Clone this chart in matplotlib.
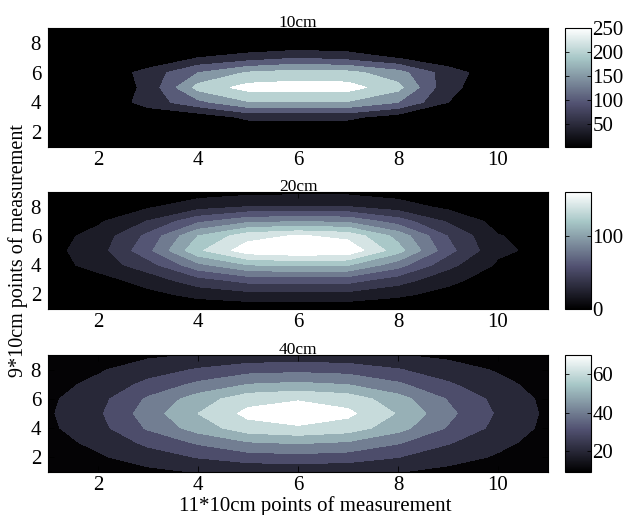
import numpy as np
import matplotlib
matplotlib.use("Agg")
import matplotlib.pyplot as plt
from matplotlib import colors as mcolors
from matplotlib.cm import ScalarMappable

plt.rcParams['font.family'] = ['Liberation Serif', 'DejaVu Serif']

# measurement grid: 11 points along x, 9 along y (rows listed bottom -> top)
x_pts = np.arange(1, 12)
y_pts = np.arange(1, 10)

depth_10cm = [
    [2, 2, 2, 2, 2, 2, 2, 2, 2, 2, 2],
    [2, 2, 3, 4, 6, 6, 6, 4, 3, 2, 2],
    [2, 3, 10, 17, 60, 60, 60, 25, 6, 3, 2],
    [2, 5, 71, 135, 195, 195, 195, 150, 50, 10, 3],
    [2, 3, 63, 218, 268, 272, 270, 216, 60, 24, 5],
    [2, 5, 70, 150, 205, 221, 215, 170, 75, 15, 3],
    [2, 2, 3, 50, 72, 97, 80, 46, 12, 3, 2],
    [2, 2, 2, 2, 3, 3, 3, 2, 2, 2, 2],
    [2, 2, 2, 2, 2, 2, 2, 2, 2, 2, 2],
]
depth_20cm = [
    [0, 1, 2, 5, 6, 6, 6, 4, 2, 1, 0],
    [2, 6, 14, 26, 33, 34, 33, 24, 13, 5, 3],
    [5, 12, 29, 53, 68, 70, 69, 50, 26, 9, 6],
    [10, 28, 51, 94, 119, 123, 121, 88, 46, 17, 10],
    [13, 31, 74, 136, 172, 178, 175, 128, 67, 24, 14],
    [11, 27, 65, 120, 152, 162, 154, 113, 59, 21, 12],
    [7, 17, 41, 75, 95, 98, 96, 70, 37, 13, 8],
    [3, 7, 17, 31, 40, 41, 40, 29, 15, 6, 3],
    [1, 3, 6, 11, 14, 15, 15, 11, 6, 2, 1],
]
depth_40cm = [
    [9, 15.1, 17.4, 20.5, 21.2, 21.6, 21.1, 20.3, 17.1, 15.2, 13.7],
    [15.1, 18.6, 24.8, 30.4, 35.1, 36.3, 34.9, 30.1, 24.0, 18.8, 14.9],
    [16.4, 22.2, 32.2, 41.3, 49.0, 51.0, 48.7, 40.9, 30.8, 22.5, 16.0],
    [18.0, 26.4, 41.2, 54.5, 65.7, 68.6, 65.3, 53.8, 39.1, 26.9, 17.4],
    [18.7, 28.2, 44.9, 60.0, 72.7, 76.0, 72.2, 59.2, 42.6, 28.7, 18.0],
    [18.1, 26.5, 41.4, 54.8, 66.1, 69.0, 65.6, 54.1, 39.3, 27.0, 17.4],
    [16.5, 22.4, 32.7, 42.1, 50.0, 52.0, 49.6, 41.6, 31.3, 22.7, 16.1],
    [15.2, 18.8, 25.2, 30.9, 35.7, 37.0, 35.6, 30.6, 24.3, 19.0, 14.9],
    [13.9, 15.4, 18.1, 20.5, 22.5, 23.0, 22.4, 20.3, 17.7, 15.5, 13.8],
]

levels_10cm = [50, 100, 150, 200, 250]
levels_20cm = [20, 40, 60, 80, 100, 120, 140, 160]
levels_40cm = [10, 20, 30, 40, 50, 60, 70]

cbticks_10cm = [50, 100, 150, 200, 250]
cbticks_20cm = [0, 100]
cbticks_40cm = [20, 40, 60]

titles = ['10cm', '20cm', '40cm']

W, H = 627, 515
fig = plt.figure(figsize=(W / 100, H / 100), dpi=100)
cmap = plt.get_cmap('bone')

# pixel boxes (left, top, right, bottom) of each panel; colorbar shares top/bottom
ax_boxes = [(48, 28, 548, 147), (48, 192, 548, 309), (48, 355, 548, 472)]
cb_x = (565, 591)


def frac(box):
    l, t, r, b = box
    return [l / W, 1 - b / H, (r - l) / W, (b - t) / H]


def panel(ax, cax, z, lev, cbticks, title):
    z = np.array(z, dtype=float)
    lo, hi = z.min(), lev[-1]
    norm = mcolors.Normalize(lo, hi)
    # MATLAB-style fill: each band takes the colour of its lower level
    bounds = [lo] + list(lev) + [max(z.max(), hi) + 1e-6]
    fills = [cmap(0.0)] + [cmap(norm(v)) for v in lev]
    ax.contourf(x_pts, y_pts, z, levels=bounds, colors=fills, antialiased=False)
    ax.set_xlim(1, 11)
    ax.set_ylim(1, 9)
    ax.set_xticks([2, 4, 6, 8, 10])
    ax.set_yticks([2, 4, 6, 8])
    ax.tick_params(direction='in', top=True, right=True, length=4,
                   labelsize=15, width=0.6, pad=5)
    ax.tick_params(axis='x', pad=3)
    ax.set_title(title, fontsize=12.5, pad=1)
    for s in ax.spines.values():
        s.set_linewidth(0.8)

    sm = ScalarMappable(norm=norm, cmap=cmap)
    cb = fig.colorbar(sm, cax=cax, ticks=cbticks)
    cax.tick_params(direction='in', left=True, right=True, length=3,
                    labelsize=15, width=0.6, pad=1)
    cb.outline.set_linewidth(0.8)


grids = [depth_10cm, depth_20cm, depth_40cm]
levs = [levels_10cm, levels_20cm, levels_40cm]
cbt = [cbticks_10cm, cbticks_20cm, cbticks_40cm]

axes = []
for i in range(3):
    l, t, r, b = ax_boxes[i]
    ax = fig.add_axes(frac(ax_boxes[i]))
    cax = fig.add_axes(frac((cb_x[0], t, cb_x[1], b)))
    panel(ax, cax, grids[i], levs[i], cbt[i], titles[i])
    axes.append(ax)

axes[2].set_xlabel('11*10cm points of measurement', fontsize=15)
axes[2].xaxis.set_label_coords(0.535, -0.205)
axes[1].set_ylabel('9*10cm points of measurement', fontsize=14.5, labelpad=2)

fig.savefig('out.png', dpi=100, facecolor='white')
